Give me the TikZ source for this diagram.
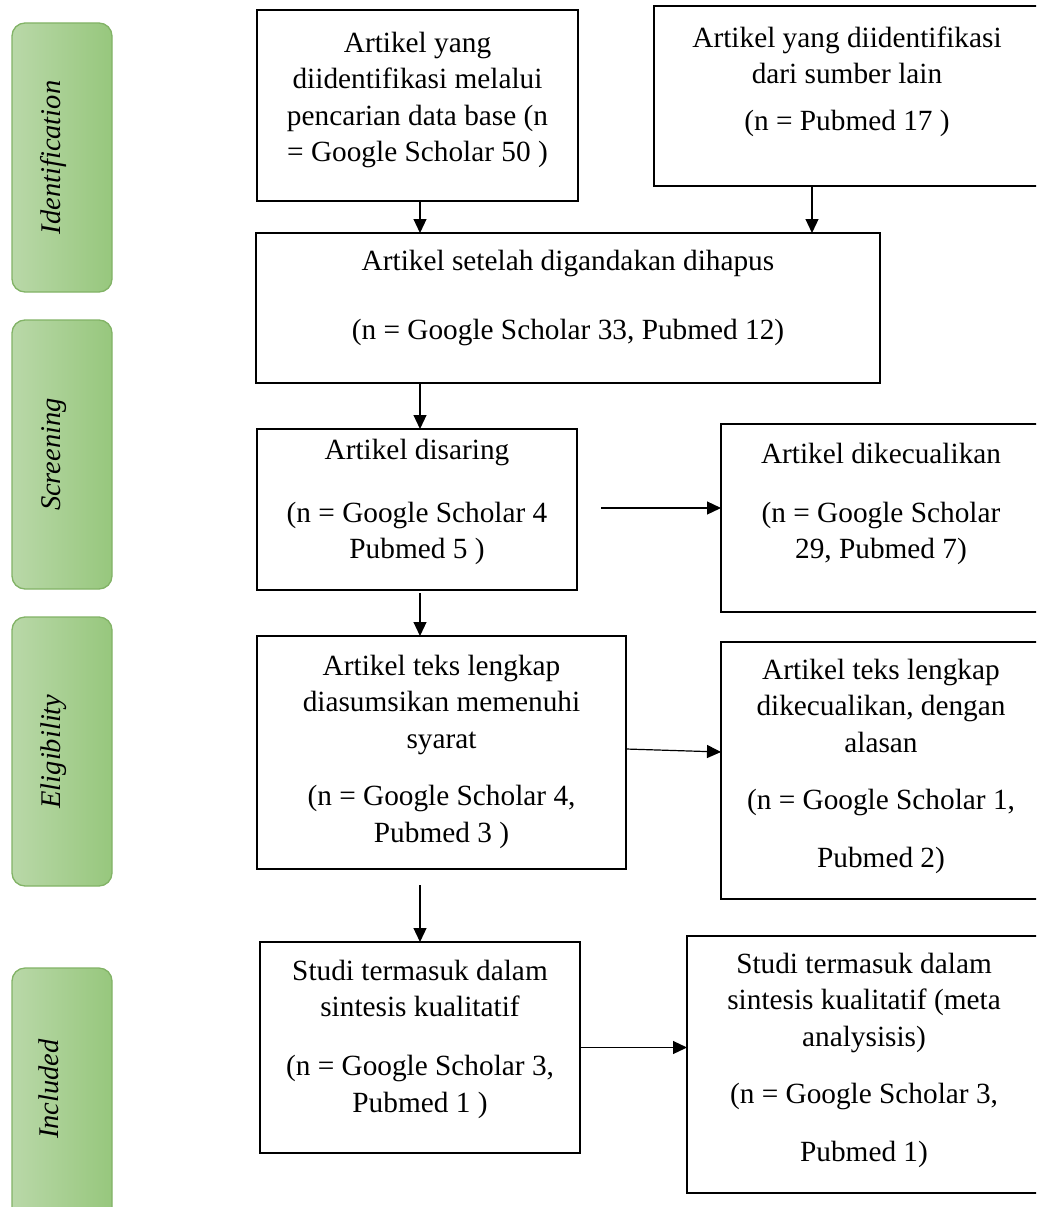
\documentclass[tikz,border=0pt]{standalone}
\usepackage{fontspec}
\setmainfont{Liberation Serif}
\usetikzlibrary{arrows.meta,calc}
\definecolor{gL}{HTML}{B9D8A8}
\definecolor{gR}{HTML}{97C77D}
\definecolor{gB}{HTML}{82B366}
\newcommand\topst{\rule{0pt}{20.5pt}}
\tikzset{
  box/.style={draw=black, line width=2pt, rectangle, inner sep=0pt, outer sep=0pt, anchor=north west},
  side/.style={draw=gB, line width=1.3pt, rounded corners=13pt, left color=gL, right color=gR,
    rectangle, inner sep=0pt, outer sep=0pt, anchor=north west, minimum width=100pt, minimum height=269pt},
  txt/.style={align=center, inner sep=0pt, anchor=north, font=\fontsize{29.3}{36.5}\selectfont},
  sidetxt/.style={rotate=90, anchor=base, inner sep=0pt, font=\fontsize{28.5}{34}\selectfont\itshape},
  arr/.style={line width=1.2pt, -{Triangle[length=14pt,width=13pt]}}
}
\begin{document}
\begin{tikzpicture}[x=1pt,y=-1pt]
\useasboundingbox (0,0) rectangle (1036,1207);
\fill[white] (0,0) rectangle (1036,1207);
\clip (0,0) rectangle (1036,1207);
% side labels
\node[side] (S1) at (12,23) {};
\node[side] (S2) at (12,320) {};
\node[side] (S3) at (12,617) {};
\node[side] (S4) at (12,968) {};
\node[sidetxt] (L1) at (60,157.5) {Identification};
\node[sidetxt] (L2) at (60,454.5) {Screening};
\node[sidetxt] (L3) at (60,751.5) {Eligibility};
\node[sidetxt] (L4) at (58,1089) {Included};
% boxes
\node[box, minimum width=321pt, minimum height=191pt] (A) at (257,10) {};
\node[box, minimum width=388pt, minimum height=180pt] (B) at (654,6) {};
\node[box, minimum width=624pt, minimum height=150pt] (C) at (256,233) {};
\node[box, minimum width=320pt, minimum height=161pt] (D) at (257,429) {};
\node[box, minimum width=321pt, minimum height=188pt] (E) at (721,424) {};
\node[box, minimum width=369pt, minimum height=233pt] (F) at (257,636) {};
\node[box, minimum width=321pt, minimum height=257pt] (G) at (721,642) {};
\node[box, minimum width=320pt, minimum height=211pt] (H) at (260,942) {};
\node[box, minimum width=355pt, minimum height=257pt] (I) at (687,936) {};
% texts
\node[txt] (tA) at (417.5,31.5) {\topst Artikel yang\\diidentifikasi melalui\\pencarian data base (n\\= Google Scholar 50 )};
\node[txt] (tB) at (847,26.5) {\topst Artikel yang diidentifikasi\\dari sumber lain\\[10pt](n = Pubmed 17 )};
\node[txt] (tC) at (568,249.5) {\topst Artikel setelah digandakan dihapus\\[32.5pt](n = Google Scholar 33, Pubmed 12)};
\node[txt] (tD) at (417,438.5) {\topst Artikel disaring\\[26.5pt](n = Google Scholar 4\\Pubmed 5 )};
\node[txt] (tE) at (881,442.5) {\topst Artikel dikecualikan\\[22.5pt](n = Google Scholar\\29, Pubmed 7)};
\node[txt] (tF) at (441.5,654.5) {\topst Artikel teks lengkap\\diasumsikan memenuhi\\syarat\\[21pt](n = Google Scholar 4,\\Pubmed 3 )};
\node[txt] (tG) at (881,658.5) {\topst Artikel teks lengkap\\dikecualikan, dengan\\alasan\\[20.5pt](n = Google Scholar 1,\\[21.5pt]Pubmed 2)};
\node[txt] (tH) at (420,959.5) {\topst Studi termasuk dalam\\sintesis kualitatif\\[22.5pt](n = Google Scholar 3,\\Pubmed 1 )};
\node[txt] (tI) at (864,952.5) {\topst Studi termasuk dalam\\sintesis kualitatif (meta\\analysisis)\\[20.5pt](n = Google Scholar 3,\\[22pt]Pubmed 1)};
% connectors
\coordinate (abx) at (420,201);
\coordinate (bbx) at (812,186);
\coordinate (dEs) at (601,508);
\coordinate (dFs) at (420,593);
\coordinate (fHs) at (420,885);
\draw[arr] (abx) -- (abx |- C.north);
\draw[arr] (bbx) -- (bbx |- C.north);
\draw[arr] (abx |- C.south) -- (abx |- D.north);
\draw[arr] (dEs) -- (dEs -| E.west);
\draw[arr] (dFs) -- (dFs |- F.north);
\draw[arr] ([yshift=3.5pt]F.east) -- ([yshift=0.5pt]F.east -| G.west);
\draw[arr] (fHs) -- (fHs |- H.north);
\draw[arr] (H.east) -- (H.east -| I.west);
\end{tikzpicture}
\end{document}
